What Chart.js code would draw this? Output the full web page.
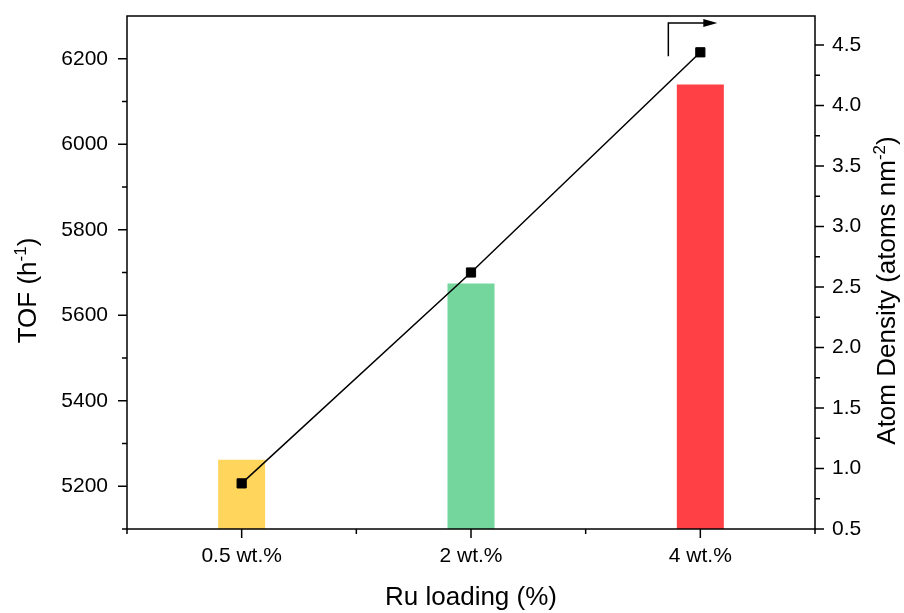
<!DOCTYPE html>
<html>
<head>
<meta charset="utf-8">
<script src="https://cdn.jsdelivr.net/npm/chart.js@4"></script>
<style>
  body { margin: 0; background: #fff; }
  canvas { display: block; }
</style>
</head>
<body>
<canvas id="chart" width="904" height="613"></canvas>
<script>
var categories = ["0.5 wt.%", "2 wt.%", "4 wt.%"];
var tofValues = [5262, 5674, 6140];
var densityValues = [0.877, 2.62, 4.44];
var barColors = ["#FFD55B", "#74D69C", "#FF4045"];

var tickFont = { family: "'Liberation Sans', Arial, sans-serif", size: 21 };
var FONT = "'Liberation Sans', Arial, sans-serif";

function isStep(v, step){
  var q = v / step;
  return Math.abs(q - Math.round(q)) < 1e-6;
}

// title text with a superscript part, rotated around (x, y) baseline-center
function drawRich(ctx, parts, x, y, rot){
  ctx.save();
  ctx.translate(x, y);
  ctx.rotate(rot);
  ctx.fillStyle = "#000";
  ctx.textBaseline = "alphabetic";
  ctx.textAlign = "left";
  var total = 0;
  parts.forEach(function (p) {
    ctx.font = (p.sup ? 17 : 26) + "px " + FONT;
    p.w = ctx.measureText(p.text).width;
    total += p.w;
  });
  var cx = -total / 2;
  parts.forEach(function (p) {
    ctx.font = (p.sup ? 17 : 26) + "px " + FONT;
    ctx.fillText(p.text, cx, p.sup ? -10 : 0);
    cx += p.w;
  });
  ctx.restore();
}

function noPad(s){
  s.paddingTop = 0; s.paddingBottom = 0;
  s.paddingLeft = 0; s.paddingRight = 0;
}

var decor = {
  id: "decor",
  afterDraw: function (chart) {
    var ctx = chart.ctx;
    var a = chart.chartArea;
    var xs = chart.scales.x, ys = chart.scales.y, y1 = chart.scales.y1;
    ctx.save();
    ctx.strokeStyle = "#000";
    ctx.lineWidth = 1.5;
    ctx.strokeRect(a.left, a.top, a.right - a.left, a.bottom - a.top);

    ctx.beginPath();
    // left axis ticks
    ys.ticks.forEach(function (t) {
      if (t.value >= ys.max - 1e-6) return;
      var py = ys.getPixelForValue(t.value);
      var len = isStep(t.value, 200) ? 9 : 5;
      ctx.moveTo(a.left, py); ctx.lineTo(a.left - len, py);
    });
    // right axis ticks
    y1.ticks.forEach(function (t) {
      if (!isStep(t.value, 0.25)) return;
      var py = y1.getPixelForValue(t.value);
      var len = isStep(t.value, 0.5) ? 9 : 5;
      ctx.moveTo(a.right, py); ctx.lineTo(a.right + len, py);
    });
    // bottom ticks: major at categories, minor at boundaries
    var n = categories.length;
    for (var i = 0; i < n; i++) {
      var px = xs.getPixelForValue(i);
      ctx.moveTo(px, a.bottom); ctx.lineTo(px, a.bottom + 9);
    }
    for (var j = 0; j <= n; j++) {
      var bx;
      if (j === 0) bx = a.left;
      else if (j === n) bx = a.right;
      else bx = (xs.getPixelForValue(j - 1) + xs.getPixelForValue(j)) / 2;
      ctx.moveTo(bx, a.bottom); ctx.lineTo(bx, a.bottom + 5);
    }
    ctx.stroke();

    // arrow pointing to right axis
    var last = chart.getDatasetMeta(1).data[n - 1];
    var ax = last.x - 32;
    var ay = a.top + 7;
    ctx.lineWidth = 1.5;
    ctx.beginPath();
    ctx.moveTo(ax, last.y + 4);
    ctx.lineTo(ax, ay);
    ctx.lineTo(ax + 36, ay);
    ctx.stroke();
    ctx.fillStyle = "#000";
    ctx.beginPath();
    ctx.moveTo(ax + 49, ay);
    ctx.lineTo(ax + 35, ay - 4);
    ctx.lineTo(ax + 35, ay + 4);
    ctx.closePath();
    ctx.fill();
    ctx.restore();

    var midY = (a.top + a.bottom) / 2 + 18;
    drawRich(ctx, [{ text: "TOF (h" }, { text: "-1", sup: true }, { text: ")" }], 36, midY, -Math.PI / 2);
    drawRich(ctx, [{ text: "Atom Density (atoms nm" }, { text: "-2", sup: true }, { text: ")" }], 895, midY, -Math.PI / 2);
    drawRich(ctx, [{ text: "Ru loading (%)" }], (a.left + a.right) / 2, 605, 0);
  }
};

new Chart(document.getElementById("chart"), {
  type: "bar",
  data: {
    labels: categories,
    datasets: [{
      label: "TOF",
      data: tofValues,
      yAxisID: "y",
      backgroundColor: barColors,
      borderWidth: 0,
      barPercentage: 0.205,
      categoryPercentage: 1,
      order: 2
    }, {
      type: "line",
      label: "Atom Density",
      data: densityValues,
      yAxisID: "y1",
      borderColor: "#000",
      borderWidth: 1.5,
      pointStyle: "rect",
      pointRadius: 6.5,
      pointBorderWidth: 1,
      pointBackgroundColor: "#000",
      pointBorderColor: "#000",
      tension: 0,
      order: 1
    }]
  },
  options: {
    responsive: false,
    animation: false,
    layout: { padding: { top: 16, left: 0, right: 0, bottom: 0 } },
    plugins: { legend: { display: false }, tooltip: { enabled: false } },
    scales: {
      x: {
        offset: true,
        grid: { display: false, drawTicks: false },
        border: { display: false },
        ticks: { font: tickFont, color: "#000", padding: 15, maxRotation: 0 },
        afterFit: function (s) { s.height = 84; noPad(s); }
      },
      y: {
        position: "left",
        min: 5100,
        max: 6300,
        grid: { display: false, drawTicks: false },
        border: { display: false },
        ticks: {
          stepSize: 100,
          autoSkip: false,
          font: tickFont,
          color: "#000",
          padding: 19,
          callback: function (v) { return isStep(v, 200) ? String(v) : ""; }
        },
        afterFit: function (s) { s.width = 127; noPad(s); }
      },
      y1: {
        position: "right",
        min: 0.5,
        max: 4.74,
        grid: { display: false, drawTicks: false },
        border: { display: false },
        ticks: {
          stepSize: 0.25,
          autoSkip: false,
          font: tickFont,
          color: "#000",
          padding: 17,
          callback: function (v) { return isStep(v, 0.5) ? v.toFixed(1) : ""; }
        },
        afterFit: function (s) { s.width = 89; noPad(s); }
      }
    }
  },
  plugins: [decor]
});
</script>
</body>
</html>
